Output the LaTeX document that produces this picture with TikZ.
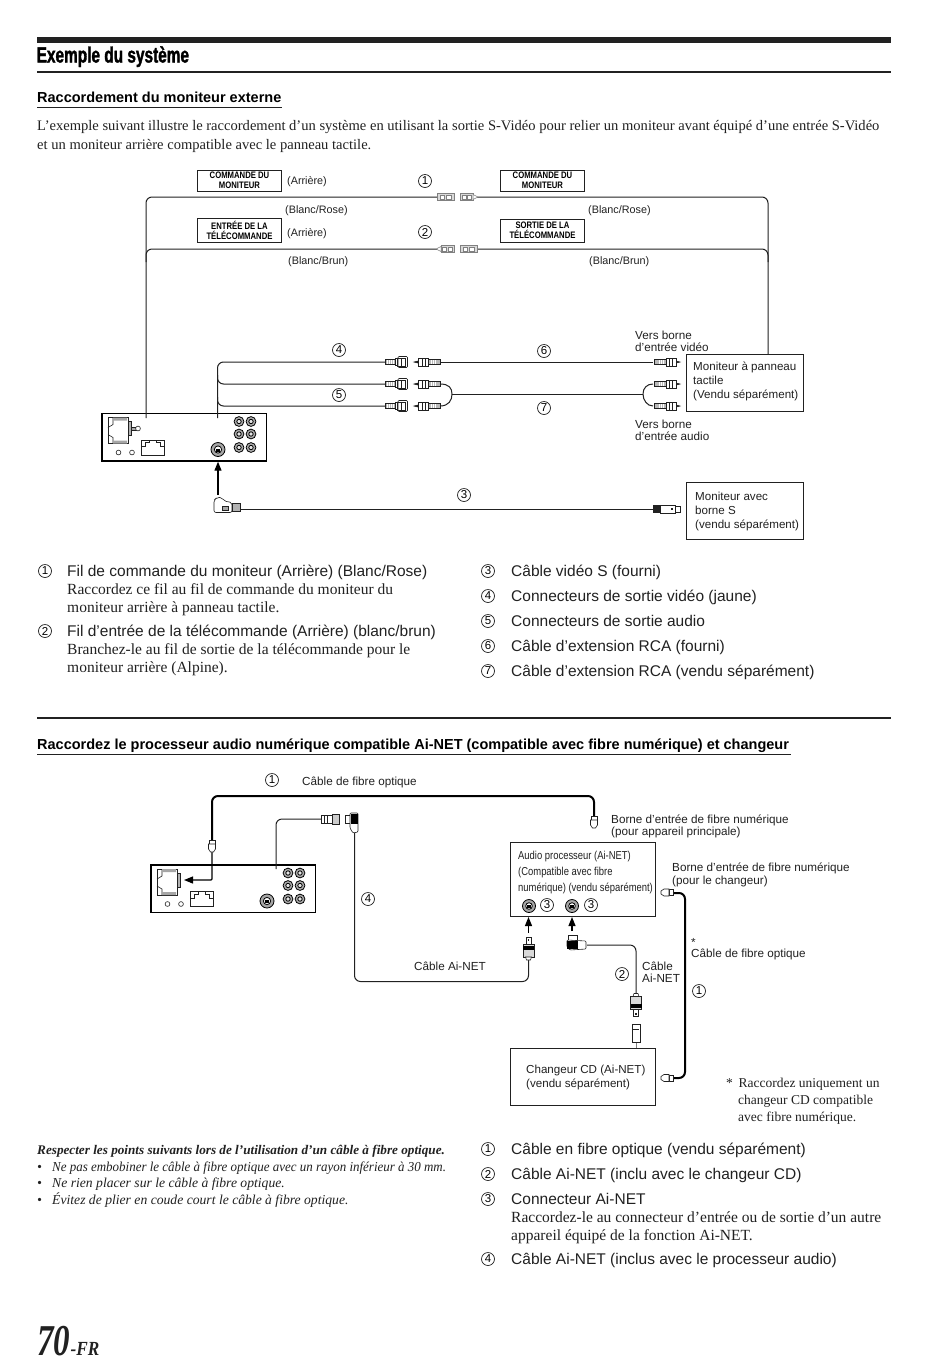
\documentclass[tikz,border=0pt]{standalone}
\usepackage{fontspec}
\setmainfont{Liberation Serif}
\setsansfont{Liberation Sans}
\newfontfamily\narrowfont[FakeStretch=.82]{Liberation Sans}
\newfontfamily\titlefont[FakeStretch=.70,FakeBold=1.5]{Liberation Sans}
\newfontfamily\pagefont[FakeStretch=.75]{Liberation Serif}
\newfontfamily\suffixfont[FakeStretch=.86]{Liberation Serif}
\usepackage{tikz}
\usetikzlibrary{arrows.meta,calc,shapes}
\definecolor{inkgray}{gray}{.13}
\tikzstyle{wire}=[line width=1pt,draw=inkgray,rounded corners=6pt]
\tikzstyle{fibre}=[line width=2pt,draw=black,rounded corners=6pt]
\tikzstyle{plugline}=[line width=.6pt,draw=inkgray,fill=white]
\tikzstyle{upshot}=[line width=1.2pt,draw=black,-{Triangle[length=9pt,width=7pt]}]
\tikzstyle{unitbox}=[draw=black,line width=1.7pt,anchor=north west,minimum width=164.5pt,minimum height=47.5pt,inner sep=0pt]
\tikzstyle{devbox}=[draw=inkgray,line width=1pt,anchor=north west,inner sep=0pt]
\tikzstyle{devtext}=[anchor=west,inner sep=0pt,text=inkgray,align=left,font=\sffamily\fontsize{11.6}{14}\selectfont]
\tikzstyle{tagbox}=[draw=inkgray,line width=.7pt,anchor=north west,minimum width=84.3pt,inner sep=0pt,font=\narrowfont\bfseries\fontsize{9.4}{10}\selectfont,align=center]
\tikzstyle{numcirc}=[circle,draw=inkgray,line width=.7pt,inner sep=0pt,minimum size=13pt,font=\sffamily\fontsize{11.5}{12}\selectfont]
\tikzstyle{lab}=[anchor=base west,inner sep=0pt,text=inkgray,font=\sffamily\fontsize{11.7}{13}\selectfont]
\tikzstyle{smalllab}=[anchor=base west,inner sep=0pt,text=inkgray,font=\sffamily\fontsize{10.8}{13}\selectfont]
\tikzstyle{narrowlab}=[anchor=base west,inner sep=0pt,text=inkgray,font=\narrowfont\fontsize{11.5}{13}\selectfont]
\tikzstyle{listhead}=[anchor=base west,inner sep=0pt,text=inkgray,font=\sffamily\fontsize{15.5}{17}\selectfont]
\tikzstyle{body}=[anchor=base west,inner sep=0pt,text=inkgray,font=\fontsize{14.55}{17}\selectfont]
\tikzstyle{listbody}=[anchor=base west,inner sep=0pt,text=inkgray,font=\fontsize{15.5}{17}\selectfont]
\tikzstyle{starnote}=[anchor=base west,inner sep=0pt,text=inkgray,font=\fontsize{13.5}{15}\selectfont]
\tikzstyle{note}=[anchor=base west,inner sep=0pt,text=inkgray,font=\itshape\fontsize{13.65}{15}\selectfont]
\tikzstyle{heading}=[anchor=base west,inner sep=0pt,text=black,font=\sffamily\bfseries\fontsize{14.5}{16}\selectfont]
\newcommand{\headunit}[3]{
	\node[unitbox] (#1) at (#2,#3) {};
	\begin{scope}[shift={(#2,#3)}]
		\draw[plugline] (7,5) rectangle (27,31);
		\draw[line width=.6pt,inkgray] (12,5) -- (12,12) -- (7,15) (7,22) -- (12,25) -- (12,31);
		\fill[gray!70] (12,5) rectangle (26,8) (12,28) rectangle (26,31);
		\draw[plugline,fill=gray!60] (27,9) rectangle (30.5,23);
		\draw[plugline] (40,27.5) rectangle (63,42.5);
		\draw[line width=.6pt,inkgray] (40,34) -- (44,34) -- (44,30) -- (48,30) -- (48,27.5) (63,34) -- (59,34) -- (59,30) -- (55,30) -- (55,27.5);
		\draw[plugline] (17.5,40) circle (2.4) (31,40) circle (2.4);
		\foreach \jx in {138,150}
			\foreach \jy in {9,21.5,35} {
				\draw[line width=.8pt,fill=gray!65] (\jx,\jy) circle (4.9);
				\draw[line width=.8pt,fill=gray!20] (\jx,\jy) circle (2.2);
			}
		\draw[line width=.8pt,fill=gray!70] (117,37) circle (7);
		\draw[line width=.8pt,fill=white] (117,37) circle (3.6);
		\fill[black] (115,36) rectangle (119,39);
	\end{scope}
}
\newcommand{\rcafemale}[1]{
	\begin{scope}[shift={(#1)}]
		\draw[plugline,fill=gray!55] (0,-2.5) rectangle (10,2.5);
		\foreach \rx in {2,4,6,8} \draw[line width=.5pt,white] (\rx,-2) -- (\rx,2);
		\draw[plugline] (10,-3.5) rectangle (12,3.5);
		\draw[plugline] (12,-4) rectangle (20,4);
		\draw[line width=.6pt,inkgray,rounded corners=1pt] (13,-5.5) rectangle (22.5,5.5);
		\draw[line width=.5pt,inkgray] (16,-4) -- (16,4);
	\end{scope}
}
\newcommand{\rcamale}[2]{
	\begin{scope}[shift={(#1)},#2]
		\draw[plugline,fill=black] (0,0) -- (4,-1) -- (4,1) -- cycle;
		\draw[plugline] (4,-4) rectangle (14,4);
		\draw[line width=.5pt,inkgray] (8,-4) -- (8,4) (11,-4) -- (11,4);
		\draw[plugline,fill=gray!55] (14,-2.5) rectangle (26,2.5);
		\foreach \rx in {17,19,21} \draw[line width=.5pt,white] (\rx,-2) -- (\rx,2);
	\end{scope}
}
\newcommand{\plainplug}[1]{
	\begin{scope}[shift={(#1)}]
		\draw[line width=.5pt,draw=gray,fill=gray!30] (0,-3.5) rectangle (17,3.5);
		\draw[line width=.5pt,draw=gray,fill=white] (3,-2) rectangle (7.5,2) (9.5,-2) rectangle (14,2);
	\end{scope}
}
\newcommand{\pinplug}[2]{
	\begin{scope}[shift={(#1)},#2]
		\draw[line width=.5pt,draw=gray,fill=gray!30] (0,-3.5) rectangle (13,3.5);
		\draw[line width=.5pt,draw=gray,fill=white] (2,-2) rectangle (6,2) (7.5,-2) rectangle (11.5,2);
		\draw[line width=.5pt,draw=gray,fill=white] (13,-2.5) -- (17,-.5) -- (17,.5) -- (13,2.5) -- cycle;
	\end{scope}
}
\newcommand{\fibreplug}[2]{
	\begin{scope}[shift={(#1)},#2]
		\draw[plugline] (-3,0) rectangle (3,4);
		\draw[plugline] (-3.5,4) -- (3.5,4) -- (3.5,9) -- (1.5,12) -- (-1.5,12) -- (-3.5,9) -- cycle;
	\end{scope}
}
\newcommand{\ainetplug}[2]{
	\begin{scope}[shift={(#1)},#2]
		\draw[plugline] (-2.5,0) rectangle (2.5,7);
		\fill[inkgray] (-.8,2) rectangle (.8,4);
		\draw[plugline,fill=gray!30] (-5.5,7) rectangle (5.5,20);
		\fill[black] (-5.5,9) rectangle (5.5,13);
		\draw[plugline] (-3,20) -- (3,20) -- (2,23) -- (-2,23) -- cycle;
	\end{scope}
}
\newcommand{\din}[2]{
	\draw[line width=.8pt,fill=gray!70] (#1,#2) circle (6.5);
	\draw[line width=.8pt,fill=white] (#1,#2) circle (3.3);
	\fill[black] (#1-2,#2-1.5) rectangle (#1+2,#2+1.5);
}
\begin{document}
\begin{tikzpicture}[x=1pt,y=-1pt]
	\useasboundingbox (0,0) rectangle (950,1366);
	\fill[white] (0,0) rectangle (950,1366);

	\fill[inkgray] (37,37) rectangle (891,42.5);
	\node[anchor=base west,inner sep=0pt,text=black,font=\titlefont\bfseries\fontsize{22}{24}\selectfont] (title) at (36.5,62.5) {Exemple du système};
	\fill[inkgray] (37,71.3) rectangle (891,73);
	\node[heading] (headA) at (37,102.5) {Raccordement du moniteur externe};
	\fill[inkgray] (37,106.5) rectangle (282,108);
	\node[body] (introA) at (37,130) {L’exemple suivant illustre le raccordement d’un système en utilisant la sortie S-Vidéo pour relier un moniteur avant équipé d’une entrée S-Vidéo};
	\node[body] (introB) at (37,149) {et un moniteur arrière compatible avec le panneau tactile.};

	\node[tagbox,minimum height=21.3pt] (tagA) at (197,169.5) {COMMANDE DU\\MONITEUR};
	\node[tagbox,minimum height=24.3pt] (tagB) at (197,217.5) {ENTRÉE DE LA\\TÉLÉCOMMANDE};
	\node[tagbox,minimum height=21.3pt] (tagC) at (500,169.5) {COMMANDE DU\\MONITEUR};
	\node[tagbox,minimum height=23.3pt] (tagD) at (500,218.5) {SORTIE DE LA\\TÉLÉCOMMANDE};
	\node[smalllab] (rearA) at (287,184) {(Arrière)};
	\node[smalllab] (rearB) at (287,236) {(Arrière)};
	\node[smalllab] (pinkA) at (285,213) {(Blanc/Rose)};
	\node[smalllab] (pinkB) at (588,213) {(Blanc/Rose)};
	\node[smalllab] (brownA) at (288,264) {(Blanc/Brun)};
	\node[smalllab] (brownB) at (589,264) {(Blanc/Brun)};
	\node[numcirc] (callA) at (425,181) {1};
	\node[numcirc] (callB) at (425,232) {2};
	\node[numcirc] (callD) at (339,350) {4};
	\node[numcirc] (callE) at (339,395) {5};
	\node[numcirc] (callF) at (544,351) {6};
	\node[numcirc] (callG) at (544,408) {7};
	\node[numcirc] (callC) at (464,495) {3};
	\node[lab] (videoA) at (635,339) {Vers borne};
	\node[lab] (videoB) at (635,351) {d’entrée vidéo};
	\node[lab] (audioA) at (635,428) {Vers borne};
	\node[lab] (audioB) at (635,440) {d’entrée audio};

	\node[devbox,minimum width=117pt,minimum height=57pt] (monitor) at (686,354) {};
	\node[devtext] (monitortext) at (693,381) {Moniteur à panneau\\tactile\\(Vendu séparément)};
	\node[devbox,minimum width=117pt,minimum height=56.5pt] (smonitor) at (686,482) {};
	\node[devtext] (smonitortext) at (695,511) {Moniteur avec\\borne S\\(vendu séparément)};
	\headunit{unitA}{101}{412.5}
	\draw[plugline,fill=gray!70] (131.5,427) rectangle (136,430);
	\draw[plugline] (138,428.5) circle (2.4);

	\coordinate (ctrlfoot) at (146,418);
	\coordinate (ctrljoin) at (146,262);
	\coordinate (rcafoot) at (217.5,418);
	\coordinate (rcaA) at (217.5,375);
	\coordinate (rcaB) at (217.5,397);
	\coordinate (plugAl) at (438,197);
	\coordinate (plugAr) at (477,197);
	\coordinate (plugBl) at (438,249);
	\coordinate (plugBr) at (477,249);
	\coordinate (rightdrop) at (768,354);
	\coordinate (rightjoin) at (768,262);
	\coordinate (femA) at (386,362);
	\coordinate (femB) at (386,384);
	\coordinate (femC) at (386,406);
	\coordinate (maleA) at (440,362);
	\coordinate (maleB) at (440,384);
	\coordinate (maleC) at (440,406);
	\coordinate (forkL) at (452,394);
	\coordinate (forkR) at (643,394);
	\coordinate (endA) at (653,362);
	\coordinate (endB) at (653,384);
	\coordinate (endC) at (653,406);
	\coordinate (splugL) at (233,509);
	\coordinate (splugR) at (653,509);
	\coordinate (splugtop) at (218,495);

	\draw[wire] (ctrlfoot) |- (plugAl);
	\draw[wire] (ctrljoin) |- (plugBl);
	\draw[wire] (plugAr) -| (rightdrop);
	\draw[wire] (plugBr) -| (rightjoin);
	\draw[wire] (rcafoot) |- (femA);
	\draw[wire] (rcaA) |- (femB);
	\draw[wire] (rcaB) |- (femC);
	\draw[wire] (maleA) -- (endA);
	\draw[line width=1pt,inkgray] (maleB) .. controls (449,384) and (452,388) .. (forkL) .. controls (452,400) and (449,406) .. (maleC);
	\draw[line width=1pt,inkgray] (endB) .. controls (647,384) and (643,388) .. (forkR) .. controls (643,400) and (647,406) .. (endC);
	\draw[wire] (forkL) -- (forkR);
	\draw[wire] (splugL) -- (splugR);
	\draw[upshot] (splugtop) -- (splugtop |- unitA.south);

	\plainplug{437,197}
	\pinplug{460,197}{}
	\pinplug{454,249}{xscale=-1}
	\plainplug{460,249}
	\foreach \ry in {362,384,406} {
		\rcafemale{385,\ry}
		\rcamale{414,\ry}{}
		\rcamale{680,\ry}{xscale=-1}
	}
	\begin{scope}[shift={(653,509)}]
		\draw[plugline,fill=inkgray] (0,-3.5) rectangle (7,3.5);
		\draw[plugline] (7,-4) rectangle (22,4);
		\draw[plugline] (22,-3) rectangle (27,3);
		\fill[inkgray] (18,-1) rectangle (20,1);
	\end{scope}
	\draw[plugline,rounded corners=2pt] (214,512.5) -- (214,500) -- (217,497.5) -- (222,497.5) -- (224,501) -- (232,502.5) -- (232,512.5) -- cycle;
	\draw[plugline,fill=gray!70] (222,506) rectangle (228,510);
	\draw[plugline,fill=gray!60] (232,503.5) rectangle (240,511.5);

	\node[numcirc] (listA) at (45,571) {1};
	\node[listhead] (listAa) at (67,576.7) {Fil de commande du moniteur (Arrière) (Blanc/Rose)};
	\node[listbody] (listAb) at (67,594.2) {Raccordez ce fil au fil de commande du moniteur du};
	\node[listbody] (listAc) at (67,612.2) {moniteur arrière à panneau tactile.};
	\node[numcirc] (listB) at (45,631) {2};
	\node[listhead] (listBa) at (67,636.7) {Fil d’entrée de la télécommande (Arrière) (blanc/brun)};
	\node[listbody] (listBb) at (67,654.2) {Branchez-le au fil de sortie de la télécommande pour le};
	\node[listbody] (listBc) at (67,672.2) {moniteur arrière (Alpine).};
	\foreach \ln/\ly/\lt in {3/571/{Câble vidéo S (fourni)},4/596/{Connecteurs de sortie vidéo (jaune)},5/621/{Connecteurs de sortie audio},6/646/{Câble d’extension RCA (fourni)},7/671/{Câble d’extension RCA (vendu séparément)}} {
		\node[numcirc] (list\ln) at (488,\ly) {\ln};
		\node[listhead] (list\ln t) at (511,\ly+5.7) {\lt};
	}

	\fill[inkgray] (37,717) rectangle (891,718.6);
	\node[heading] (headB) at (37,749) {Raccordez le processeur audio numérique compatible Ai-NET (compatible avec fibre numérique) et changeur};
	\fill[inkgray] (37,753.5) rectangle (791,755);

	\node[numcirc] (fibA) at (272,780) {1};
	\node[lab] (fibAt) at (302,785) {Câble de fibre optique};
	\node[lab] (bornA) at (611,823) {Borne d’entrée de fibre numérique};
	\node[lab] (bornB) at (611,835.5) {(pour appareil principale)};
	\node[lab] (bornC) at (672,871) {Borne d’entrée de fibre numérique};
	\node[lab] (bornD) at (672,884) {(pour le changeur)};
	\node[lab] (fibstar) at (691,946) {*};
	\node[lab] (fibB) at (691,957) {Câble de fibre optique};
	\node[numcirc] (fibC) at (699,991) {1};
	\node[numcirc] (netD) at (368,899) {4};
	\node[lab] (netDt) at (414,970) {Câble Ai-NET};
	\node[numcirc] (netB) at (622,974) {2};
	\node[lab] (netBa) at (642,970) {Câble};
	\node[lab] (netBb) at (642,982) {Ai-NET};

	\headunit{unitB}{150}{864}
	\node[devbox,minimum width=145pt,minimum height=74pt] (audiobox) at (510,842) {};
	\node[devbox,minimum width=145pt,minimum height=56.5pt] (cdbox) at (510,1048) {};
	\node[devtext] (cdtext) at (526,1077) {Changeur CD (Ai-NET)\\(vendu séparément)};
	\node[narrowlab] (procA) at (518,859.5) {Audio processeur (Ai-NET)};
	\node[narrowlab] (procB) at (518,875) {(Compatible avec fibre};
	\node[narrowlab] (procC) at (518,891) {numérique) (vendu séparément)};
	\din{529}{906}
	\din{572}{906}
	\node[numcirc] (connA) at (547,905) {3};
	\node[numcirc] (connB) at (591,905) {3};

	\coordinate (fibreL) at (212,840);
	\coordinate (fibreR) at (594,816);
	\coordinate (fibreIn) at (212,852);
	\coordinate (fibreTip) at (184,880);
	\coordinate (netfoot) at (276,869);
	\coordinate (netplug) at (322,819);
	\coordinate (angleA) at (354.5,832);
	\coordinate (ainetA) at (528.5,960);
	\coordinate (arrowA) at (528.5,933);
	\coordinate (arrowB) at (572,931);
	\coordinate (angleB) at (587,945);
	\coordinate (plugC) at (636,994);
	\coordinate (plugD) at (636,1042);
	\coordinate (changerT) at (673,893);
	\coordinate (changerB) at (673,1078);

	\draw[fibre] (fibreL) |- (594,796) -- (fibreR);
	\draw[line width=1.2pt,draw=black,-{Triangle[length=9pt,width=7pt]},rounded corners=1pt] (fibreIn) |- (fibreTip);
	\draw[wire] (netfoot) |- (netplug);
	\draw[wire] (angleA) |- (528.5,981.5) -- (ainetA);
	\draw[upshot] (arrowA) -- (arrowA |- audiobox.south);
	\draw[upshot] (arrowB) -- (arrowB |- audiobox.south);
	\draw[wire] (angleB) -| (plugC);
	\draw[line width=1pt,gray] (plugD) -- (plugD |- cdbox.north);
	\draw[fibre] (changerT) -| (685,1078) -- (changerB);

	\fibreplug{212,840}{}
	\fibreplug{594,816}{}
	\fibreplug{673,892.5}{rotate=-90}
	\fibreplug{673,1078}{rotate=-90}
	\ainetplug{528.5,937}{}
	\ainetplug{636,1016.5}{yscale=-1}
	\begin{scope}[shift={(321,819)}]
		\draw[plugline] (0,-4) rectangle (11,4);
		\draw[line width=.5pt,inkgray] (3,-4) -- (3,4) (6,-4) -- (6,4);
		\draw[plugline,fill=gray!40] (11,-5) rectangle (18,5);
	\end{scope}
	\draw[plugline] (345,815) rectangle (350,823);
	\draw[plugline,fill=white,rounded corners=1pt] (350,813) -- (358,813) -- (358,832) -- (353,833) -- (350,828) -- cycle;
	\fill[black] (350.5,813.5) rectangle (357.5,824);
	\draw[plugline] (568,935) rectangle (577,940);
	\draw[plugline,rounded corners=1pt] (567,940) -- (586,941) -- (586,949) -- (570,950) -- (567,947) -- cycle;
	\fill[black] (567,941) rectangle (578,949);
	\draw[plugline] (632,1024) rectangle (640,1042);
	\draw[plugline] (633,1029) -- (639,1029);

	\node[starnote] (starA) at (726,1087) {*\, Raccordez uniquement un};
	\node[starnote] (starB) at (738,1104) {changeur CD compatible};
	\node[starnote] (starC) at (738,1121) {avec fibre numérique.};

	\node[note,font=\bfseries\itshape\fontsize{13.2}{15}\selectfont] (warnA) at (37,1154) {Respecter les points suivants lors de l’utilisation d’un câble à fibre optique.};
	\node[note,xscale=.95,transform shape] (warnB) at (52,1171) {Ne pas embobiner le câble à fibre optique avec un rayon inférieur à 30 mm.};
	\node[note] (dotB) at (37,1171) {\textbullet};
	\foreach \wn/\wy/\wt in {C/1187.5/{Ne rien placer sur le câble à fibre optique.},D/1204/{Évitez de plier en coude court le câble à fibre optique.}} {
		\node[note] (warn\wn) at (52,\wy) {\wt};
		\node[note] (dot\wn) at (37,\wy) {\textbullet};
	}

	\node[numcirc] (lastA) at (488,1149) {1};
	\node[listhead] (lastAt) at (511,1154.7) {Câble en fibre optique (vendu séparément)};
	\node[numcirc] (lastB) at (488,1174) {2};
	\node[listhead] (lastBt) at (511,1179.7) {Câble Ai-NET (inclu avec le changeur CD)};
	\node[numcirc] (lastC) at (488,1199) {3};
	\node[listhead] (lastCt) at (511,1204.7) {Connecteur Ai-NET};
	\node[listbody] (lastCa) at (511,1222.5) {Raccordez-le au connecteur d’entrée ou de sortie d’un autre};
	\node[listbody] (lastCb) at (511,1240.5) {appareil équipé de la fonction Ai-NET.};
	\node[numcirc] (lastD) at (488,1259) {4};
	\node[listhead] (lastDt) at (511,1264.7) {Câble Ai-NET (inclus avec le processeur audio)};

	\node[anchor=base west,inner sep=0pt,text=inkgray,font=\pagefont\bfseries\itshape\fontsize{44}{46}\selectfont] (pagenum) at (37,1355) {70};
	\node[anchor=base west,inner sep=0pt,text=inkgray,font=\suffixfont\bfseries\itshape\fontsize{20}{21}\selectfont] (pagefr) at (pagenum.base east) {-FR};
\end{tikzpicture}
\end{document}
